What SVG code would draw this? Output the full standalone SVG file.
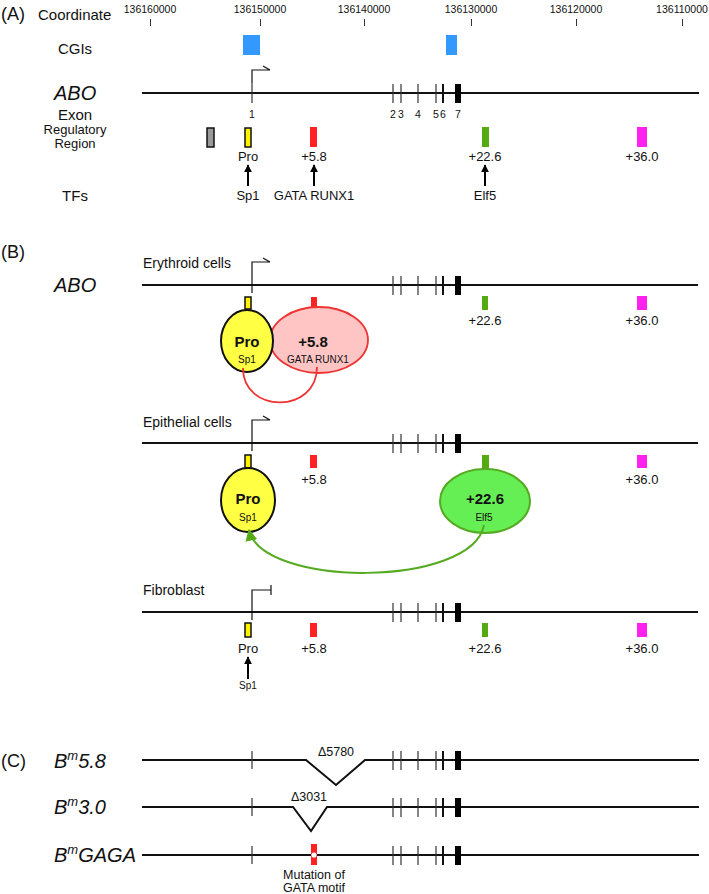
<svg xmlns="http://www.w3.org/2000/svg" width="709" height="894" viewBox="0 0 709 894">
<defs>
<style>
text{font-family:"Liberation Sans",Arial,sans-serif;fill:#111}
.lab{font-size:18px}
.row{font-size:15px}
.cell{font-size:14px}
.coord{font-size:10.5px;text-anchor:middle}
.gene{font-size:20px;font-style:italic}
.ex{font-size:10.5px;text-anchor:middle}
.rr{font-size:13px;text-anchor:middle}
.big{font-size:15px;font-weight:bold;text-anchor:middle}
.sm{font-size:10px;text-anchor:middle}
.note{font-size:12.5px;text-anchor:middle}
.line{stroke:#111;stroke-width:2;fill:none}
.tk{stroke:#333;stroke-width:1.2}
.tk6{stroke:#111;stroke-width:2}
.prom{stroke:#111;stroke-width:1.2;fill:none}
.cgi{fill:#3399FF}
.gray{fill:#999;stroke:#111;stroke-width:1.5}
.yel{fill:#FFF200;stroke:#111;stroke-width:1.5}
.red{fill:#FF2222}
.grn{fill:#55AA11}
.mag{fill:#FF22EE}
.arr{stroke:#000;stroke-width:2;fill:none}
</style>
<marker id="ah" viewBox="0 0 10 10" refX="9" refY="5" markerWidth="4" markerHeight="4" orient="auto"><path d="M0,0 L10,5 L0,10 z" fill="#000"/></marker>
<marker id="gah" viewBox="0 0 10 10" refX="9" refY="5" markerWidth="6" markerHeight="6" orient="auto"><path d="M0,0 L10,5 L0,10 z" fill="#55AA11"/></marker>
<g id="exons">
<line class="tk" x1="393" y1="-9" x2="393" y2="10"/>
<line class="tk" x1="401" y1="-9" x2="401" y2="10"/>
<line class="tk" x1="418" y1="-9" x2="418" y2="10"/>
<line class="tk" x1="436" y1="-9" x2="436" y2="10"/>
<line class="tk6" x1="443" y1="-9" x2="443" y2="10"/>
<rect x="455" y="-9" width="6" height="19" fill="#000"/>
</g>
</defs>
<rect width="709" height="894" fill="#fff"/>

<!-- Section A -->
<g id="panelA">
<text class="lab" x="1" y="20">(A)</text>
<text class="row" x="38" y="20">Coordinate</text>
<g id="coords">
<text class="coord" x="150" y="13">136160000</text>
<text class="coord" x="260" y="13">136150000</text>
<text class="coord" x="364" y="13">136140000</text>
<text class="coord" x="471" y="13">136130000</text>
<text class="coord" x="576" y="13">136120000</text>
<text class="coord" x="682" y="13">136110000</text>
<g stroke="#333" stroke-width="1">
<line x1="150.5" y1="19" x2="150.5" y2="26"/>
<line x1="260.5" y1="19" x2="260.5" y2="26"/>
<line x1="364.5" y1="19" x2="364.5" y2="26"/>
<line x1="471.5" y1="19" x2="471.5" y2="26"/>
<line x1="576.5" y1="19" x2="576.5" y2="26"/>
<line x1="682.5" y1="19" x2="682.5" y2="26"/>
</g>
</g>
<text class="row" x="75" y="54" text-anchor="middle">CGIs</text>
<g id="cgis">
<rect class="cgi" x="243" y="35" width="17" height="20"/>
<rect class="cgi" x="446" y="35" width="11" height="20"/>
</g>
<g id="geneA">
<text class="gene" x="54" y="100">ABO</text>
<line class="line" x1="142" y1="93" x2="699" y2="93"/>
<line class="tk" x1="252" y1="83" x2="252" y2="103"/>
<path class="prom" d="M252,83 V70 H270 M263,66 L270,70"/>
<use href="#exons" y="93"/>
<text class="row" x="75" y="120" text-anchor="middle">Exon</text>
<text class="ex" x="252" y="118">1</text>
<text class="ex" x="393" y="118">2</text>
<text class="ex" x="401" y="118">3</text>
<text class="ex" x="418" y="118">4</text>
<text class="ex" x="436" y="118">5</text>
<text class="ex" x="443" y="118">6</text>
<text class="ex" x="458" y="118">7</text>
</g>
<g id="regA">
<text x="75" y="134" font-size="13" text-anchor="middle">Regulatory</text>
<text x="75" y="148" font-size="13" text-anchor="middle">Region</text>
<rect class="gray" x="207" y="128" width="7" height="19"/>
<rect class="yel" x="245" y="128" width="6" height="19"/>
<rect class="red" x="310" y="127" width="7" height="20"/>
<rect class="grn" x="482" y="127" width="7" height="20"/>
<rect class="mag" x="637" y="127" width="10" height="20"/>
<text class="rr" x="248" y="161">Pro</text>
<text class="rr" x="314" y="161">+5.8</text>
<text class="rr" x="485" y="161">+22.6</text>
<text class="rr" x="642" y="161">+36.0</text>
</g>
<g id="tfsA">
<text class="row" x="75" y="201" text-anchor="middle">TFs</text>
<line class="arr" x1="248" y1="186" x2="248" y2="165" marker-end="url(#ah)"/>
<line class="arr" x1="314" y1="186" x2="314" y2="165" marker-end="url(#ah)"/>
<line class="arr" x1="485" y1="186" x2="485" y2="165" marker-end="url(#ah)"/>
<text class="rr" x="248" y="200">Sp1</text>
<text class="rr" x="314" y="200">GATA RUNX1</text>
<text class="rr" x="485" y="200">Elf5</text>
</g>
</g>

<!-- Section B -->
<g id="panelB">
<text class="lab" x="1" y="258">(B)</text>
<g id="erythroid">
<text class="cell" x="143" y="268">Erythroid cells</text>
<text class="gene" x="54" y="292">ABO</text>
<line class="line" x1="142" y1="285" x2="698" y2="285"/>
<path class="prom" d="M252,293 V262 H270 M263,258 L270,262"/>
<use href="#exons" y="285"/>
<rect class="red" x="311" y="297" width="6" height="12"/>
<ellipse cx="319" cy="340" rx="49" ry="33" fill="#FFC4C4" stroke="#EE3333" stroke-width="1.8"/>
<rect class="yel" x="245" y="297" width="6" height="12"/>
<ellipse cx="247" cy="341" rx="26" ry="31" fill="#FFFF44" stroke="#111" stroke-width="2"/>
<text class="big" x="247" y="347">Pro</text>
<text class="sm" x="247" y="363">Sp1</text>
<text class="big" x="313" y="347">+5.8</text>
<text class="sm" x="318" y="363">GATA RUNX1</text>
<rect class="grn" x="482" y="296" width="6" height="14"/>
<rect class="mag" x="637" y="296" width="10" height="14"/>
<text class="rr" x="485" y="325">+22.6</text>
<text class="rr" x="642" y="325">+36.0</text>
</g>
<g id="epithelial">
<text class="cell" x="143" y="427">Epithelial cells</text>
<line class="line" x1="142" y1="443" x2="698" y2="443"/>
<path class="prom" d="M252,451 V420 H270 M263,416 L270,420"/>
<use href="#exons" y="443"/>
<rect class="yel" x="245" y="455" width="6" height="13"/>
<ellipse cx="248" cy="500" rx="27" ry="32" fill="#FFFF44" stroke="#111" stroke-width="2"/>
<text class="big" x="248" y="504">Pro</text>
<text class="sm" x="248" y="521">Sp1</text>
<rect class="red" x="310" y="455" width="7" height="13"/>
<text class="rr" x="314" y="484">+5.8</text>
<rect class="grn" x="482" y="455" width="7" height="14"/>
<ellipse cx="485" cy="501" rx="45" ry="32" fill="#66EE55" stroke="#55AA22" stroke-width="2"/>
<text class="big" x="485" y="504">+22.6</text>
<text class="sm" x="484" y="521">Elf5</text>
<rect class="mag" x="637" y="455" width="10" height="13"/>
<text class="rr" x="642" y="484">+36.0</text>
</g>
<g id="fibroblast">
<text class="cell" x="143" y="595">Fibroblast</text>
<line class="line" x1="142" y1="612" x2="698" y2="612"/>
<path class="prom" d="M252,620 V590 H271 M271,585 V595"/>
<use href="#exons" y="612"/>
<rect class="yel" x="245" y="623" width="6" height="14"/>
<text class="rr" x="248" y="653">Pro</text>
<line class="arr" x1="248" y1="679" x2="248" y2="657" marker-end="url(#ah)"/>
<text class="sm" x="248" y="689">Sp1</text>
<rect class="red" x="310" y="623" width="7" height="14"/>
<text class="rr" x="314" y="653">+5.8</text>
<rect class="grn" x="482" y="623" width="6" height="14"/>
<text class="rr" x="485" y="653">+22.6</text>
<rect class="mag" x="637" y="623" width="10" height="14"/>
<text class="rr" x="642" y="653">+36.0</text>
</g>
<g id="connectors">
<path d="M243,368 C243,414 317,414 317,367" fill="none" stroke="#EE3333" stroke-width="1.8"/>
<path d="M484,525 C472,588 262,588 249,530" fill="none" stroke="#55AA22" stroke-width="2" marker-end="url(#gah)"/>
</g>
</g>

<!-- Section C -->
<g id="panelC">
<text class="lab" x="1" y="767">(C)</text>
<g id="bm58">
<text class="gene" x="54" y="768">B<tspan font-size="13" dy="-8">m</tspan><tspan dy="8">5.8</tspan></text>
<path class="line" d="M142,760 H306 L336,785 L365,760 H699"/>
<line class="tk" x1="252" y1="751" x2="252" y2="769"/>
<use href="#exons" y="760"/>
<text class="note" x="336" y="756">Δ5780</text>
</g>
<g id="bm30">
<text class="gene" x="54" y="814">B<tspan font-size="13" dy="-8">m</tspan><tspan dy="8">3.0</tspan></text>
<path class="line" d="M142,807 H293 L311,831 L327,807 H699"/>
<line class="tk" x1="252" y1="798" x2="252" y2="816"/>
<use href="#exons" y="807"/>
<text class="note" x="309" y="801">Δ3031</text>
</g>
<g id="bmgaga">
<text class="gene" x="54" y="862">B<tspan font-size="13" dy="-8">m</tspan><tspan dy="8">GAGA</tspan></text>
<line class="line" x1="142" y1="855" x2="699" y2="855"/>
<line class="tk" x1="252" y1="846" x2="252" y2="864"/>
<use href="#exons" y="855"/>
<rect class="red" x="311" y="844" width="6" height="21"/>
<circle cx="314" cy="855" r="2.6" fill="#fff"/>
<text class="note" x="314" y="879">Mutation of</text>
<text class="note" x="314" y="892">GATA motif</text>
</g>
</g>
</svg>
